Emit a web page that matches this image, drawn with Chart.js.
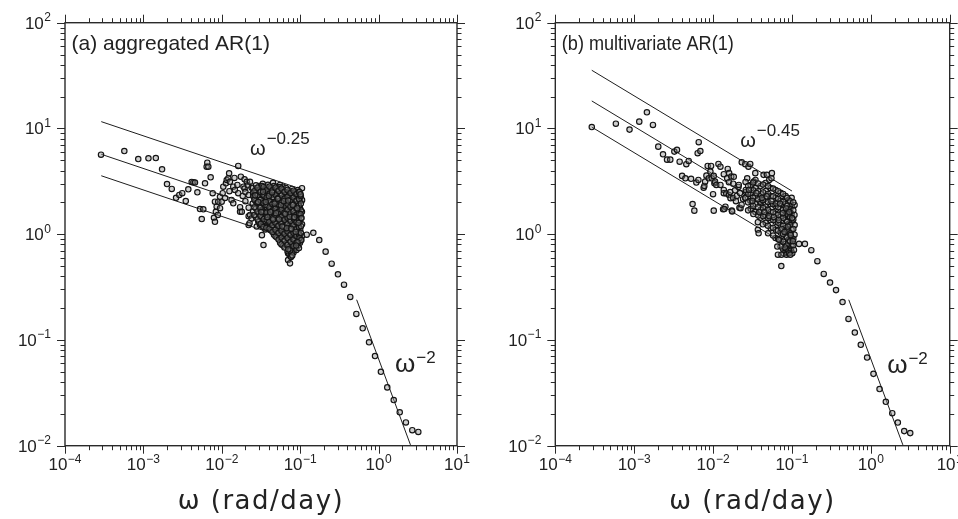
<!DOCTYPE html>
<html>
<head>
<meta charset="utf-8">
<script src="https://cdn.jsdelivr.net/npm/chart.js@4.4.1/dist/chart.umd.min.js"></script>
<style>
  html, body { margin: 0; padding: 0; background: #fff; width: 958px; height: 519px; overflow: hidden; }
  canvas { position: absolute; top: 0; }
  #panelA { left: 0; }
  #panelB { left: 479px; }
</style>
</head>
<body>
<canvas id="panelA" width="479" height="519"></canvas>
<canvas id="panelB" width="479" height="519"></canvas>
<script>
// ---- axis decades -------------------------------------------------------
const xExponents = [-4, -3, -2, -1, 0, 1];   // omega, rad/day
const yExponents = [-2, -1, 0, 1, 2];        // spectral power

// ---- power-law guide lines ----------------------------------------------
const bandRange = [2.9e-4, 0.1];             // frequency span of the low-frequency bands
const slopeA = -0.25;
const bandAnchorsA = [11.6, 5.7, 3.57];      // band values at bandRange[0], panel (a)
const slopeB = -0.45;
const bandAnchorsB = [35.5, 18.2, 10.3];     // band values at bandRange[0], panel (b)
const rolloffRange = [0.525, 2.55];
const rolloffSlope = -2;
const rolloffAnchor = 0.24;

// ---- panel (a): aggregated AR(1) spectrum -------------------------------
const sparseA = [
  [2.88e-4,5.65],[5.71e-4,6.12],[8.6e-4,5.14],[1.16e-3,5.22],[1.44e-3,5.25],[1.73e-3,4.11],
  [2.0e-3,2.98],[2.3e-3,2.68],[2.61e-3,2.21],[2.87e-3,2.35],[3.13e-3,2.44],[3.47e-3,2.06],
  [3.74e-3,2.66],[4.13e-3,3.12],[4.34e-3,3.10],[4.55e-3,3.08],[4.88e-3,2.49],[5.27e-3,1.73],
  [5.81e-3,1.72],[5.55e-3,1.39],[6.11e-3,3.03],[6.53e-3,4.74],[6.41e-3,4.35],[6.73e-3,4.35],
  [7.21e-3,3.45],[7.65e-3,2.44],[7.94e-3,1.43],[8.18e-3,1.31],
  [8.18e-3,2.03],[8.4e-3,1.63],[8.6e-3,1.82],[8.9e-3,1.52],[9.0e-3,2.03],[9.5e-3,1.76],
  [9.48e-3,2.26],[9.97e-3,2.03],[0.01026,2.44],[0.01045,2.81],[0.0113,3.03],[0.01156,3.26],
  [0.0121,3.38],[0.0124,3.77],[0.0127,3.13],[0.0125,2.55],[0.011,2.2],[0.0133,2.11],
  [0.014,1.96],[0.014,2.81],[0.0145,3.4],[0.0147,2.62],[0.0158,2.92],[0.0162,4.42],
  [0.0162,2.44],[0.0171,1.63],[0.0171,1.8],[0.0175,3.5],[0.018,1.63],[0.0185,2.3],
  [0.0189,2.81],[0.0195,3.3],[0.0195,2.7],[0.02,2.05],[0.02,2.5],[0.0208,3.13],
  [0.0215,2.9],[0.022,2.35],[0.022,1.78],[0.022,1.48],[0.022,1.22],[0.0226,1.27],
  [0.0229,3.13],[0.0229,1.52],[0.024,2.75],[0.024,1.41],[0.025,2.45],[0.026,2.2],
  [0.027,2.6],[0.0279,1.18],[0.028,1.95],[0.0292,1.32],[0.03,2.85],[0.0307,1.22],
  [0.0325,0.98],[0.0333,2.99],[0.034,0.79],[0.0366,2.81],[0.0394,1.27],[0.041,2.62],
  [0.0434,1.18],[0.045,3.06],[0.0455,1.10],[0.05,2.81],[0.0552,2.92],[0.0552,1.14],
  [0.0604,2.81],[0.0632,1.05],[0.0668,2.46],[0.07,0.66],[0.07,0.57],[0.0741,0.98],
  [0.0741,0.53],[0.0766,2.53],[0.0811,0.88],[0.0811,0.71],[0.085,2.44],[0.0858,0.79],
  [0.0858,0.73],[0.0994,2.26]
];
const denseA = [
  [0.025,2.74],[0.0252,2.28],[0.0248,1.95],[0.0251,1.64],
  [0.0273,2.9],[0.0275,2.47],[0.0271,2.05],[0.0274,1.75],[0.0272,1.45],
  [0.0298,2.6],[0.03,2.22],[0.0296,1.84],[0.0299,1.56],[0.0297,1.31],
  [0.0326,2.85],[0.0328,2.38],[0.0324,2.03],[0.0327,1.68],[0.0325,1.43],[0.0329,1.2],
  [0.0356,2.66],[0.0358,2.27],[0.0354,1.9],[0.0357,1.57],[0.0355,1.34],[0.0359,1.11],
  [0.0388,2.93],[0.039,2.5],[0.0386,2.16],[0.0389,1.84],[0.0387,1.59],[0.0391,1.35],[0.0385,1.16],
  [0.0424,2.73],[0.0426,2.36],[0.0422,2.01],[0.0425,1.74],[0.0423,1.48],[0.0427,1.28],[0.0421,1.09],
  [0.0463,2.85],[0.0465,2.44],[0.0461,2.12],[0.0464,1.8],[0.0462,1.56],[0.0466,1.32],[0.046,1.15],[0.0463,0.99],
  [0.0506,2.68],[0.0508,2.29],[0.0504,1.99],[0.0507,1.7],[0.0505,1.45],[0.0509,1.26],[0.0503,1.06],[0.0506,0.93],
  [0.0552,2.79],[0.0555,2.41],[0.055,2.06],[0.0553,1.78],[0.0551,1.51],[0.0556,1.31],[0.0549,1.11],[0.0552,0.97],[0.0554,0.83],
  [0.0604,2.63],[0.0607,2.24],[0.0602,1.95],[0.0605,1.65],[0.0603,1.43],[0.0608,1.21],[0.06,1.04],[0.0604,0.9],[0.0606,0.78],
  [0.0659,2.73],[0.0662,2.36],[0.0657,2.01],[0.066,1.74],[0.0658,1.48],[0.0663,1.28],[0.0655,1.09],[0.0659,0.95],[0.0661,0.81],
  [0.072,2.55],[0.0723,2.21],[0.0718,1.88],[0.0721,1.63],[0.0719,1.38],[0.0724,1.2],[0.0716,1.02],[0.072,0.89],[0.0722,0.76],[0.0717,0.65],
  [0.0786,2.68],[0.0789,2.29],[0.0784,1.99],[0.0787,1.68],[0.0785,1.47],[0.079,1.24],[0.0782,1.08],[0.0786,0.91],[0.0788,0.8],[0.0783,0.68],
  [0.0858,2.5],[0.0861,2.16],[0.0856,1.84],[0.0859,1.59],[0.0857,1.35],[0.0862,1.18],[0.0854,0.99],[0.0858,0.87],[0.086,0.75],
  [0.0937,2.61],[0.094,2.26],[0.0935,1.93],[0.0938,1.67],[0.0936,1.41],[0.0941,1.23],[0.0933,1.04],[0.0937,0.91],[0.0939,0.78],
  [0.0994,2.4],[0.0997,2.06],[0.0992,1.78],[0.0995,1.51],[0.0993,1.31],[0.0998,1.11],[0.099,0.97],[0.0994,0.83],
  [0.1054,2.72],[0.1056,2.1],[0.1052,1.63],[0.1055,1.24],[0.1053,0.96],
  [0.0261,2.55],[0.0261,2.12],[0.0262,1.8],[0.026,1.52],
  [0.0285,2.75],[0.0286,2.35],[0.0284,1.98],[0.0285,1.64],[0.0287,1.38],
  [0.0312,2.5],[0.0313,2.1],[0.0311,1.76],[0.0312,1.49],[0.0314,1.25],
  [0.0341,2.78],[0.0342,2.33],[0.034,1.97],[0.0341,1.63],[0.0343,1.39],[0.0339,1.17],
  [0.0372,2.6],[0.0373,2.22],[0.0371,1.88],[0.0372,1.6],[0.0374,1.36],[0.037,1.15],
  [0.0406,2.82],[0.0407,2.42],[0.0405,2.08],[0.0406,1.79],[0.0408,1.53],[0.0404,1.31],[0.0406,1.13],
  [0.0443,2.6],[0.0444,2.25],[0.0442,1.93],[0.0443,1.67],[0.0445,1.42],[0.0441,1.22],[0.0443,1.05],
  [0.0484,2.75],[0.0485,2.36],[0.0483,2.02],[0.0484,1.74],[0.0486,1.5],[0.0482,1.29],[0.0484,1.1],[0.0485,0.95],
  [0.0529,2.58],[0.053,2.21],[0.0528,1.91],[0.0529,1.63],[0.0531,1.41],[0.0527,1.2],[0.0529,1.03],[0.053,0.89],
  [0.0578,2.7],[0.0579,2.32],[0.0577,1.99],[0.0578,1.71],[0.058,1.46],[0.0576,1.26],[0.0578,1.08],[0.0579,0.93],[0.0577,0.8],
  [0.0631,2.52],[0.0632,2.17],[0.063,1.87],[0.0631,1.6],[0.0633,1.37],[0.0629,1.18],[0.0631,1.01],[0.0632,0.87],[0.063,0.75],
  [0.0689,2.62],[0.069,2.26],[0.0688,1.94],[0.0689,1.68],[0.0691,1.43],[0.0687,1.24],[0.0689,1.06],[0.069,0.92],[0.0688,0.79],[0.0689,0.69],
  [0.0752,2.45],[0.0753,2.12],[0.0751,1.82],[0.0752,1.57],[0.0754,1.34],[0.075,1.15],[0.0752,0.99],[0.0753,0.85],[0.0751,0.73],[0.0752,0.62],
  [0.0821,2.58],[0.0822,2.22],[0.082,1.91],[0.0821,1.64],[0.0823,1.41],[0.0819,1.21],[0.0821,1.03],[0.0822,0.89],[0.082,0.77],[0.0821,0.67],
  [0.0897,2.4],[0.0898,2.08],[0.0896,1.78],[0.0897,1.53],[0.0899,1.3],[0.0895,1.12],[0.0897,0.96],[0.0898,0.83],[0.0896,0.71],
  [0.0965,2.5],[0.0966,2.15],[0.0964,1.86],[0.0965,1.58],[0.0967,1.36],[0.0963,1.17],[0.0965,1.0],[0.0966,0.86],[0.0964,0.74],
  [0.102,2.3],[0.1021,1.95],[0.1019,1.68],[0.102,1.42],[0.1022,1.19],[0.1018,1.03],[0.102,0.88],
  [0.0267,2.33],[0.0291,2.02],[0.0319,1.62],[0.0336,2.52],[0.0363,2.02],[0.0381,1.45],[0.0398,2.3],
  [0.0415,1.62],[0.0437,2.48],[0.0452,1.38],[0.0471,1.95],[0.0492,1.58],[0.0517,2.16],[0.0539,1.38],
  [0.0566,1.88],[0.0591,1.18],[0.0617,2.05],[0.0645,1.55],[0.0673,1.14],[0.0701,2.08],[0.0735,1.46],
  [0.0769,1.12],[0.0804,1.88],[0.0839,1.45],[0.0877,1.05],[0.0918,1.75],[0.0952,1.28],[0.0981,0.92],
  [0.101,1.55],[0.104,1.42],[0.1035,0.88],[0.098,2.5],[0.101,2.38],[0.0925,0.84],[0.089,0.78],
  [0.0745,0.7],[0.0705,0.72],[0.0765,0.61],[0.0792,0.63]
];
const rolloffA = [
  [0.121,0.99],[0.147,1.03],[0.175,0.88],[0.211,0.684],[0.252,0.526],[0.303,0.418],
  [0.362,0.333],[0.435,0.255],[0.52,0.176],[0.627,0.129],[0.755,0.095],[0.9,0.0705],
  [1.07,0.05],[1.29,0.0356],[1.56,0.027],[1.86,0.0207],[2.23,0.0166],[2.69,0.014],[3.21,0.0135]
];

// ---- panel (b): multivariate AR(1) spectrum -----------------------------
const sparseB = [
  [2.9e-4,10.3],[5.86e-4,11.1],[8.73e-4,9.75],[1.16e-3,11.6],[1.45e-3,14.2],[1.73e-3,10.8],
  [2.02e-3,6.73],[2.32e-3,5.7],[2.61e-3,5.07],[2.87e-3,5.07],[3.23e-3,6.04],[3.49e-3,6.27],
  [3.77e-3,4.85],[4.05e-3,3.56],[4.46e-3,3.38],[4.58e-3,4.59],[4.91e-3,4.93],[5.26e-3,3.34],
  [5.5e-3,1.93],[5.79e-3,1.67],[6.14e-3,3.08],[6.38e-3,5.83],[6.52e-3,3.26],[6.58e-3,7.41],
  [6.9e-3,6.12],[7.6e-3,2.75],[7.75e-3,2.86],[7.93e-3,3.14],[8.24e-3,3.58],[8.55e-3,4.42],
  [8.81e-3,3.38],[9.25e-3,3.91],[9.44e-3,4.42],[9.62e-3,3.38],[0.01,2.39],[0.0102,3.56],
  [0.0102,1.67],[0.0104,3.03],[0.0106,3.14],[0.011,2.92],[0.0117,4.62],[0.0124,4.35],
  [0.0124,2.92],[0.0134,1.72],[0.01368,3.69],[0.01368,2.62],[0.01368,2.44],[0.01435,1.82],
  [0.0139,1.73],[0.0147,2.43],[0.0151,3.38],[0.01535,4.14],[0.0159,2.35],[0.0159,3.1],
  [0.016,3.78],[0.0165,2.5],[0.01663,2.19],[0.017,3.51],[0.0173,1.67],[0.01746,1.64],
  [0.018,3.0],[0.018,2.2],[0.0183,3.49],[0.019,2.6],[0.0195,2.05],[0.02,2.3],[0.021,2.8],
  [0.0212,2.92],[0.0216,1.78],[0.022,2.45],[0.0223,1.76],[0.0231,4.79],[0.023,1.9],
  [0.024,2.15],[0.0256,4.59],[0.026,2.5],[0.0258,2.19],[0.0271,3.38],[0.0281,4.35],
  [0.0296,4.62],[0.0329,3.14],[0.0343,3.78],[0.037,1.10],[0.0378,1.02],[0.04,1.96],
  [0.0437,3.64],[0.0481,3.64],[0.0515,3.26],[0.055,3.38],[0.0557,3.78]
];
const denseB = [
  [0.0258,3.12],[0.026,2.62],[0.0256,2.21],
  [0.0299,2.92],[0.0301,2.46],[0.0297,2.07],[0.03,1.74],
  [0.0345,3.26],[0.0347,2.73],[0.0343,2.29],[0.0346,1.93],[0.0344,1.62],
  [0.04,2.85],[0.0402,2.4],[0.0398,2.03],[0.0401,1.7],[0.0399,1.43],
  [0.0463,3.05],[0.0466,2.56],[0.0461,2.16],[0.0464,1.82],[0.0462,1.52],[0.0465,1.28],
  [0.0536,2.73],[0.0539,2.29],[0.0533,1.93],[0.0537,1.62],[0.0535,1.36],[0.0538,1.14],
  [0.0621,2.62],[0.0624,2.21],[0.0618,1.85],[0.0622,1.56],[0.062,1.31],[0.0623,1.1],[0.0619,0.92],
  [0.0718,2.46],[0.0721,2.07],[0.0715,1.74],[0.0719,1.46],[0.0717,1.22],[0.072,1.03],[0.0716,0.87],
  [0.0832,2.29],[0.0835,1.93],[0.0829,1.62],[0.0833,1.36],[0.0831,1.14],[0.0834,0.96],[0.083,0.81],[0.0832,0.68],
  [0.0908,2.11],[0.0911,1.77],[0.0905,1.49],[0.0909,1.25],[0.0907,1.05],[0.091,0.885],[0.0906,0.74],
  [0.0991,2.21],[0.0994,1.85],[0.0988,1.56],[0.0992,1.31],[0.099,1.1],[0.0993,0.92],[0.0989,0.78],
  [0.108,1.89],[0.1077,1.52],[0.1082,1.22],[0.1079,0.99],
  [0.0278,2.85],[0.0279,2.4],[0.0277,2.0],[0.0278,1.68],
  [0.0322,3.08],[0.0323,2.6],[0.0321,2.2],[0.0322,1.85],[0.0324,1.55],
  [0.0372,3.02],[0.0373,2.55],[0.0371,2.14],[0.0372,1.8],[0.0374,1.5],[0.037,1.3],
  [0.043,2.95],[0.0431,2.48],[0.0429,2.1],[0.043,1.76],[0.0432,1.48],[0.0428,1.24],
  [0.0498,2.85],[0.0499,2.4],[0.0497,2.02],[0.0498,1.7],[0.05,1.42],[0.0496,1.2],[0.0498,1.02],
  [0.0577,2.7],[0.0578,2.28],[0.0576,1.92],[0.0577,1.62],[0.0579,1.36],[0.0575,1.15],[0.0577,0.97],
  [0.0668,2.55],[0.0669,2.15],[0.0667,1.8],[0.0668,1.52],[0.067,1.28],[0.0666,1.08],[0.0668,0.9],
  [0.0773,2.4],[0.0774,2.02],[0.0772,1.7],[0.0773,1.42],[0.0775,1.2],[0.0771,1.0],[0.0773,0.85],[0.0774,0.72],
  [0.087,2.2],[0.0871,1.85],[0.0869,1.56],[0.087,1.31],[0.0872,1.1],[0.0868,0.93],[0.087,0.78],[0.0871,0.66],
  [0.095,2.05],[0.0951,1.72],[0.0949,1.45],[0.095,1.22],[0.0952,1.02],[0.0948,0.86],[0.095,0.73],
  [0.104,2.0],[0.1041,1.68],[0.1039,1.38],[0.104,1.12],[0.1042,0.9],[0.1038,0.78],
  [0.0285,2.62],[0.0315,2.05],[0.0355,2.45],[0.0385,1.62],[0.0415,2.2],[0.0447,1.62],[0.048,2.28],
  [0.0515,1.48],[0.055,2.05],[0.059,1.45],[0.0635,1.95],[0.068,1.36],[0.0705,1.95],[0.074,1.12],
  [0.0765,1.58],[0.0805,1.05],[0.0845,1.75],[0.0885,1.18],[0.0925,1.62],[0.0965,0.98],[0.1005,1.42],
  [0.1025,0.86],[0.0855,0.72],[0.0895,0.7],[0.0975,0.7],[0.101,0.66],[0.0815,0.75],[0.0785,0.66]
];
const rolloffB = [
  [0.0684,0.885],[0.0718,0.764],[0.0652,0.764],[0.0664,0.64],[0.0736,0.64],[0.0852,0.64],
  [0.0733,0.5],[0.0916,0.66],[0.0953,0.64],[0.1061,0.71],
  [0.123,0.81],[0.146,0.81],[0.176,0.706],[0.21,0.556],[0.253,0.421],[0.304,0.349],
  [0.362,0.296],[0.438,0.228],[0.521,0.158],[0.627,0.1175],[0.746,0.09],[0.897,0.0682],
  [1.08,0.0478],[1.29,0.0343],[1.55,0.026],[1.87,0.0203],[2.2,0.01656],[2.65,0.01374],[3.16,0.01315]
];

// ---- drawing helpers ----------------------------------------------------
const SANS = '"Liberation Sans", Arial, sans-serif';
const WIDE = '"DejaVu Sans", "Liberation Sans", sans-serif';
const INK = '#222';

const toXY = pairs => pairs.map(([x, y]) => ({ x, y }));
const powerLaw = (range, anchor, slope) => [
  { x: range[0], y: anchor },
  { x: range[1], y: anchor * Math.pow(range[1] / range[0], slope) }
];
const expText = v => (v < 0 ? '\u2212' + Math.abs(v) : String(v));

function drawPow10(ctx, exp, x, baseline, align) {
  const base = '10', sup = expText(exp);
  ctx.font = '17px ' + SANS;
  const wb = ctx.measureText(base).width;
  ctx.font = '12px ' + SANS;
  const ws = ctx.measureText(sup).width;
  const total = wb + 0.5 + ws;
  const x0 = align === 'center' ? x - total / 2 : x - total;
  ctx.font = '17px ' + SANS;
  ctx.fillText(base, x0, baseline);
  ctx.font = '12px ' + SANS;
  ctx.fillText(sup, x0 + wb + 0.5, baseline - 7.5);
}

function drawSlopeLabel(ctx, chart, lab) {
  const px = chart.scales.x.getPixelForValue(lab.at[0]);
  const py = chart.scales.y.getPixelForValue(lab.at[1]);
  ctx.font = lab.size + 'px ' + SANS;
  ctx.fillText('\u03C9', px, py);
  const w = ctx.measureText('\u03C9').width;
  ctx.font = lab.supSize + 'px ' + SANS;
  ctx.fillText(expText(lab.slope), px + w + 1, py - lab.raise);
}

// frame, outward log ticks on all four sides, labels and annotations
const decor = {
  id: 'decor',
  afterDraw(chart, args, o) {
    const ctx = chart.ctx;
    const { left, right, top, bottom } = chart.chartArea;
    const xs = chart.scales.x, ys = chart.scales.y;
    ctx.save();
    ctx.strokeStyle = '#2a2a2a';
    ctx.lineWidth = 1;
    ctx.beginPath();
    xExponents.forEach((e, i) => {
      const last = i === xExponents.length - 1;
      for (let m = 1; m <= (last ? 1 : 9); m++) {
        const p = Math.round(xs.getPixelForValue(m * Math.pow(10, e))) + 0.5;
        const len = m === 1 ? 8 : 4.5;
        ctx.moveTo(p, bottom); ctx.lineTo(p, bottom + len);
        ctx.moveTo(p, top); ctx.lineTo(p, top - len);
      }
    });
    yExponents.forEach((e, i) => {
      const last = i === yExponents.length - 1;
      for (let m = 1; m <= (last ? 1 : 9); m++) {
        const p = Math.round(ys.getPixelForValue(m * Math.pow(10, e))) + 0.5;
        const len = m === 1 ? 8 : 4.5;
        ctx.moveTo(left, p); ctx.lineTo(left - len, p);
        ctx.moveTo(right, p); ctx.lineTo(right + len, p);
      }
    });
    ctx.stroke();
    ctx.lineWidth = 1.4;
    ctx.strokeRect(left, top, right - left, bottom - top);

    ctx.fillStyle = INK;
    ctx.textAlign = 'left';
    ctx.textBaseline = 'alphabetic';
    xExponents.forEach(e => drawPow10(ctx, e, xs.getPixelForValue(Math.pow(10, e)), bottom + 24.5, 'center'));
    yExponents.forEach(e => drawPow10(ctx, e, left - 14, ys.getPixelForValue(Math.pow(10, e)) + 6, 'right'));

    // panel title
    ctx.font = '21px ' + SANS;
    ctx.fillText(o.title, left + 6.5, top + 27.5, o.titleWidth);

    // power-law annotations
    o.labels.forEach(lab => drawSlopeLabel(ctx, chart, lab));

    // x axis title
    ctx.font = '26px ' + WIDE;
    ctx.letterSpacing = '1.5px';
    ctx.textAlign = 'center';
    ctx.fillText('\u03C9 (rad/day)', (left + right) / 2, 509);
    ctx.restore();
  }
};

function makePanel(id, cfg) {
  const pointsSet = {
    data: toXY(cfg.points),
    showLine: false,
    pointRadius: 2.7,
    pointBorderWidth: 1.15,
    pointBorderColor: '#141414',
    pointBackgroundColor: 'rgba(140,140,140,0.42)',
    order: 0
  };
  const lineStyle = { showLine: true, borderColor: '#1e1e1e', borderWidth: 1, pointRadius: 0, fill: false, order: 1 };
  const guides = cfg.anchors.map(a => Object.assign({ data: powerLaw(bandRange, a, cfg.slope) }, lineStyle));
  guides.push(Object.assign({ data: powerLaw(rolloffRange, rolloffAnchor, rolloffSlope) }, lineStyle));

  return new Chart(document.getElementById(id), {
    type: 'scatter',
    data: { datasets: [pointsSet, ...guides] },
    options: {
      responsive: false,
      animation: false,
      devicePixelRatio: 1,
      layout: { autoPadding: false, padding: { left: 0, right: cfg.padRight, top: 22.7, bottom: 0 } },
      plugins: {
        legend: { display: false },
        tooltip: { enabled: false },
        decor: { title: cfg.title, titleWidth: cfg.titleWidth, labels: cfg.labels }
      },
      scales: {
        x: {
          type: 'logarithmic', position: 'bottom',
          min: Math.pow(10, xExponents[0]), max: Math.pow(10, xExponents[xExponents.length - 1]),
          grid: { display: false }, border: { display: false }, ticks: { display: false },
          afterFit(s) { s.height = 73.3; }
        },
        y: {
          type: 'logarithmic', position: 'left',
          min: Math.pow(10, yExponents[0]), max: Math.pow(10, yExponents[yExponents.length - 1]),
          grid: { display: false }, border: { display: false }, ticks: { display: false },
          afterFit(s) { s.width = cfg.axisWidth; }
        }
      }
    },
    plugins: [decor]
  });
}

makePanel('panelA', {
  title: '(a) aggregated AR(1)',
  titleWidth: 200,
  points: [...sparseA, ...denseA, ...rolloffA],
  anchors: bandAnchorsA,
  slope: slopeA,
  axisWidth: 65,
  padRight: 22,
  labels: [
    { at: [0.0229, 5.6], slope: slopeA, size: 20, supSize: 17, raise: 11 },
    { at: [1.62, 0.0498], slope: rolloffSlope, size: 26, supSize: 17, raise: 9 }
  ]
});

makePanel('panelB', {
  title: '(b) multivariate AR(1)',
  titleWidth: 172,
  points: [...sparseB, ...denseB, ...rolloffB],
  anchors: bandAnchorsB,
  slope: slopeB,
  axisWidth: 76.3,
  padRight: 8.3,
  labels: [
    { at: [0.0221, 6.7], slope: slopeB, size: 20, supSize: 17, raise: 11 },
    { at: [1.61, 0.0489], slope: rolloffSlope, size: 26, supSize: 17, raise: 9 }
  ]
});
</script>
</body>
</html>
